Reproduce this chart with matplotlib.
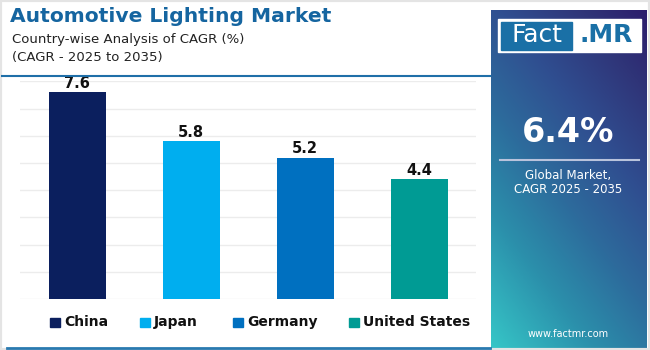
import matplotlib.pyplot as plt
import numpy as np
from matplotlib.colors import LinearSegmentedColormap
from matplotlib.patches import Rectangle

countries = ['China', 'Japan', 'Germany', 'United States']
cagr = [7.6, 5.8, 5.2, 4.4]
colors = ['#0b1f5e', '#00aeef', '#0070c0', '#009b94']

title = 'Automotive Lighting Market'
subtitle = ['Country-wise Analysis of CAGR (%)', '(CAGR - 2025 to 2035)']
global_cagr = '6.4%'
global_label = ['Global Market,', 'CAGR 2025 - 2035']

W, H = 650, 350


def fx(x):
    return x / W


def fy(y):
    return 1 - y / H


fig = plt.figure(figsize=(6.5, 3.5), dpi=100)
fig.patch.set_facecolor('white')

# thin grey frame
fig.patches.append(Rectangle((0, 0), 1, 1, transform=fig.transFigure,
                             fill=False, edgecolor='#e4e4e4', linewidth=3))

# titles
fig.text(fx(10), fy(17), title, fontsize=14.6, fontweight='bold',
         color='#1565a0', va='center', ha='left', family='DejaVu Sans')
fig.text(fx(12), fy(39), subtitle[0], fontsize=9.5, color='#222222',
         va='center', ha='left')
fig.text(fx(12), fy(58), subtitle[1], fontsize=9.5, color='#222222',
         va='center', ha='left')
fig.add_artist(plt.Line2D([fx(2), fx(490)], [fy(76), fy(76)],
                          color='#1f6fa8', linewidth=1.5))
fig.add_artist(plt.Line2D([fx(7), fx(490)], [fy(348), fy(348)],
                          color='#2a7ab0', linewidth=2))

# bar chart
ax = fig.add_axes([fx(20), fy(299), fx(476) - fx(20), fy(81.4) - fy(299)])
x = np.arange(len(countries))
bars = ax.bar(x, cagr, width=0.5, color=colors, zorder=3)
ax.set_xlim(-0.5, 3.5)
ax.set_ylim(0, 8)
ax.set_yticks(np.arange(0, 9, 1))
ax.yaxis.grid(True, color='#ececec', linewidth=1, zorder=0)
ax.tick_params(left=False, bottom=False, labelleft=False, labelbottom=False)
for s in ax.spines.values():
    s.set_visible(False)
ax.set_facecolor('none')
for xi, v in zip(x, cagr):
    ax.text(xi, v + 0.06, f'{v}', ha='center', va='bottom', fontsize=10.5,
            fontweight='bold', color='#111111')

# legend
leg_x = [50, 140, 233, 349]
for lx, c, name in zip(leg_x, colors, countries):
    fig.patches.append(Rectangle((fx(lx), fy(327)), fx(9.5), 9.5 / H,
                                 transform=fig.transFigure, color=c))
    fig.text(fx(lx + 14), fy(322), name, fontsize=10, fontweight='bold',
             color='#111111', va='center', ha='left')

# right panel with gradient
pax = fig.add_axes([fx(491), fy(348), fx(647) - fx(491), fy(10) - fy(348)])
cmap = LinearSegmentedColormap.from_list(
    'panel', [(0, '#36c6c7'), (0.25, '#2b8fab'), (0.45, '#2d6b9c'),
              (0.65, '#304e90'), (0.85, '#2f3478'), (1, '#2c1d6c')])
u, v = np.meshgrid(np.linspace(0, 1, 200), np.linspace(0, 1, 400))
grad = (0.45 * u + 0.75 * v) / 1.2
pax.imshow(grad, cmap=cmap, origin='lower', aspect='auto',
           extent=[0, 1, 0, 1], vmin=0, vmax=1)
pax.set_xlim(0, 1)
pax.set_ylim(0, 1)
pax.axis('off')

# logo
fig.patches.append(Rectangle((fx(498), fy(52)), fx(641) - fx(498), 33 / H,
                             transform=fig.transFigure, color='white'))
fig.patches.append(Rectangle((fx(501), fy(49.5)), fx(572) - fx(501), 28 / H,
                             transform=fig.transFigure, color='#1a70a6'))
fig.text(fx(537), fy(35.5), 'Fact', fontsize=18, color='white',
         ha='center', va='center')
fig.text(fx(606), fy(35.5), '.MR', fontsize=18, fontweight='bold',
         color='#1a70a6', ha='center', va='center')

fig.text(fx(568), fy(133), global_cagr, fontsize=24, fontweight='bold',
         color='white', ha='center', va='center')
fig.add_artist(plt.Line2D([fx(500), fx(639)], [fy(160), fy(160)],
                          color='#b9c3dc', linewidth=1.5))
fig.text(fx(568), fy(175), global_label[0], fontsize=8.5, color='white',
         ha='center', va='center')
fig.text(fx(568), fy(190), global_label[1], fontsize=8.5, color='white',
         ha='center', va='center')
fig.text(fx(568), fy(334), 'www.factmr.com', fontsize=7, color='white',
         ha='center', va='center')

fig.savefig('out.png', dpi=100)
